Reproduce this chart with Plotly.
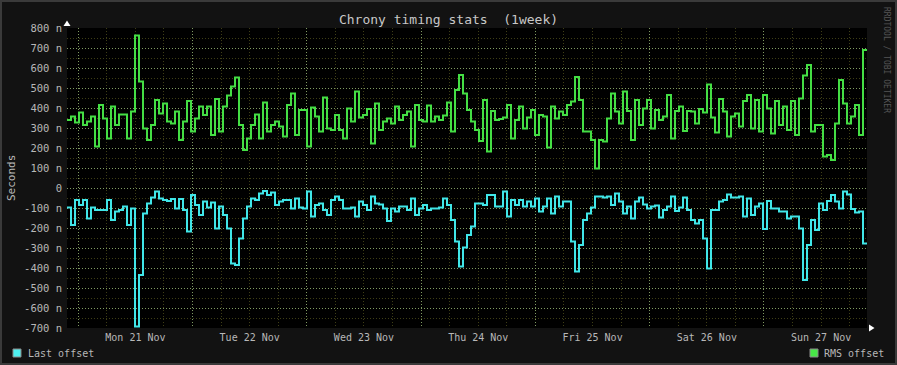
import pandas as pd
import plotly.graph_objects as go

# ---- data (nanoseconds), sampled uniformly over the week ----
start_time = "2022-11-20 21:38"
n_points = 201
step_seconds = 3024

rms_offset_ns = [
    340, 357, 328, 378, 315, 332, 357, 207, 415, 348, 248, 407, 315, 368, 368, 248, 382, 762, 532, 298,
    240, 315, 440, 373, 423, 332, 323, 382, 240, 332, 435, 282, 348, 407,
    365, 407, 265, 445, 282, 407, 462, 507, 552, 315, 190, 248, 315, 368, 248, 428, 282, 315, 332, 307,
    257, 415, 473, 265, 390, 390, 207, 402, 357, 282, 452, 298, 290, 365,
    290, 248, 398, 332, 482, 352, 365, 395, 223, 423, 290, 332, 348, 323, 407, 340, 365, 382, 207, 415,
    340, 332, 412, 332, 357, 340, 362, 428, 282, 490, 565, 473, 390,
    332, 290, 235, 440, 182, 385, 340, 345, 352, 415, 248, 340, 407, 298, 352, 390, 265, 365, 357, 202,
    407, 348, 382, 365, 415, 432, 555, 440, 282, 282, 240, 98, 240,
    232, 348, 473, 382, 323, 482, 385, 240, 440, 315, 398, 440, 298, 390, 340, 357, 465, 248, 385, 407,
    285, 385, 382, 323, 395, 378, 518, 352, 278, 445, 382, 257, 357, 373,
    307, 435, 465, 298, 440, 282, 465, 398, 273, 435, 315, 407, 290, 435, 265, 448, 562, 615, 282, 315,
    315, 157, 165, 140, 323, 540, 423, 323, 357, 415, 265, 690, 690,
]

last_offset_ns = [
    -98, -185, -60, -85, -60, -152, -98, -110, -110, -110, -60, -160, -118, -110, -93, -185, -102, -693, -435, -127,
    -77, -48, -18, -52, -60, -65, -55, -102, -55, -110, -218, -35, -85, -135,
    -68, -98, -72, -202, -93, -135, -202, -377, -385, -252, -152, -93, -52, -60, -27, -15, -35, -22, -85, -68,
    -60, -60, -102, -52, -98, -102, -18, -143, -85, -77, -110, -135, -60, -43,
    -60, -102, -102, -98, -143, -68, -85, -110, -43, -77, -82, -102, -165, -102, -118, -93, -93, -110, -52, -135,
    -102, -85, -110, -102, -102, -98, -52, -85, -160, -268, -393, -298, -235,
    -193, -77, -77, -85, -35, -35, -93, -93, -18, -143, -60, -85, -60, -93, -68, -93, -52, -118, -93, -52,
    -127, -43, -93, -68, -68, -268, -418, -285, -160, -127, -98, -43, -43,
    -48, -43, -85, -27, -68, -127, -93, -152, -68, -48, -82, -102, -93, -88, -148, -110, -93, -43, -115, -98,
    -48, -110, -160, -177, -160, -252, -402, -110, -110, -68, -60, -32, -48, -48,
    -43, -143, -52, -135, -93, -77, -205, -65, -102, -102, -118, -118, -152, -143, -143, -202, -460, -285, -160, -210,
    -77, -110, -65, -35, -68, -102, -18, -32, -105, -122, -118, -277, -277,
]

y_tick_values = [800, 700, 600, 500, 400, 300, 200, 100, 0, -100, -200, -300, -400, -500, -600, -700]
y_tick_labels = [("%d n" % v) if v != 0 else "0" for v in y_tick_values]

times = pd.date_range(start=start_time, periods=n_points, freq=pd.Timedelta(seconds=step_seconds))
t_end = times[0] + pd.Timedelta(days=7)

FONT = "DejaVu Sans Mono"
TXT = "#b8b8b8"
CYAN = "#40e6e8"
GREEN = "#44de44"
MAJOR_GRID = "#7f9a62"
MINOR_GRID = "#3e3e16"

fig = go.Figure()
fig.add_trace(go.Scatter(x=times, y=rms_offset_ns, mode="lines", line=dict(color=GREEN, width=2, shape="hv"),
                         name="RMS offset", showlegend=False))
fig.add_trace(go.Scatter(x=times, y=last_offset_ns, mode="lines", line=dict(color=CYAN, width=2, shape="hv"),
                         name="Last offset", showlegend=False))

L, R, T, B = 67, 30, 28, 37
W, H = 897, 365
pw, ph = W - L - R, H - T - B


def px(xp):
    return (xp - L) / pw


def py(yp):
    return (H - B - yp) / ph


fig.update_layout(
    width=W, height=H,
    margin=dict(l=L, r=R, t=T, b=B, autoexpand=False),
    paper_bgcolor="#121212",
    plot_bgcolor="#000000",
    font=dict(family=FONT, size=10, color=TXT),
    title=dict(text="Chrony timing stats  (1week)", x=0.5, xanchor="center",
               y=1 - 19 / H, yanchor="middle", font=dict(family=FONT, size=13, color="#c8c8c8")),
    xaxis=dict(
        range=[times[0], t_end],
        type="date",
        tick0="2022-11-21", dtick=86400000,
        ticklabelmode="period",
        tickformat="%a %d %b",
        ticks="", showline=False, zeroline=False,
        ticklabelstandoff=2,
        showgrid=True, gridcolor=MAJOR_GRID, griddash="1px,2px", gridwidth=1,
        minor=dict(tick0="2022-11-21", dtick=6 * 3600 * 1000, showgrid=True,
                   gridcolor=MINOR_GRID, griddash="1px,2px", gridwidth=1),
        tickfont=dict(family=FONT, size=10, color=TXT),
        fixedrange=True,
    ),
    yaxis=dict(
        range=[-700, 800],
        tickmode="array", tickvals=y_tick_values, ticktext=y_tick_labels,
        ticks="", showline=False, zeroline=False,
        ticklabelstandoff=4,
        showgrid=True, gridcolor=MAJOR_GRID, griddash="1px,2px", gridwidth=1,
        minor=dict(tick0=0, dtick=50, showgrid=True,
                   gridcolor=MINOR_GRID, griddash="1px,2px", gridwidth=1),
        tickfont=dict(family=FONT, size=10.5, color=TXT),
        fixedrange=True,
    ),
)

shapes = [
    # outer frame
    dict(type="rect", xref="paper", yref="paper", x0=px(1), x1=px(W - 1), y0=py(H - 1), y1=py(1),
         line=dict(color="#3a3a3a", width=2), fillcolor="rgba(0,0,0,0)", layer="above"),
    # axis arrows
    dict(type="path", xref="paper", yref="paper",
         path="M %f %f L %f %f L %f %f Z" % (px(67), py(20.5), px(63.5), py(26), px(70.5), py(26)),
         fillcolor="#ffffff", line=dict(width=0), layer="above"),
    dict(type="path", xref="paper", yref="paper",
         path="M %f %f L %f %f L %f %f Z" % (px(874.5), py(328), px(869), py(324.5), px(869), py(331.5)),
         fillcolor="#ffffff", line=dict(width=0), layer="above"),
    # legend boxes
    dict(type="rect", xref="paper", yref="paper", x0=px(13), x1=px(21), y0=py(357), y1=py(349),
         fillcolor="#4ef0f0", line=dict(color="#8a8a8a", width=1), layer="above"),
    dict(type="rect", xref="paper", yref="paper", x0=px(810), x1=px(818), y0=py(357), y1=py(349),
         fillcolor="#48e848", line=dict(color="#8a8a8a", width=1), layer="above"),
]
fig.update_layout(shapes=shapes)

annotations = [
    dict(text="Last offset", xref="paper", yref="paper", x=px(26), y=py(353), xanchor="left", yanchor="middle",
         showarrow=False, font=dict(family=FONT, size=10, color=TXT)),
    dict(text="RMS offset", xref="paper", yref="paper", x=px(822), y=py(353), xanchor="left", yanchor="middle",
         showarrow=False, font=dict(family=FONT, size=10, color=TXT)),
    dict(text="Seconds", xref="paper", yref="paper", x=px(11), y=0.5, xanchor="center", yanchor="middle",
         textangle=-90, showarrow=False, font=dict(family=FONT, size=11, color=TXT)),
    dict(text="RRDTOOL / TOBI OETIKER", xref="paper", yref="paper", x=px(887), y=py(60), xanchor="center",
         yanchor="middle", textangle=90, showarrow=False, font=dict(family=FONT, size=8, color="#555555")),
]
fig.update_layout(annotations=annotations)

fig.write_html("out.html", config={"displayModeBar": False},
               post_script="document.body.style.margin='0';document.body.style.background='#121212';")
